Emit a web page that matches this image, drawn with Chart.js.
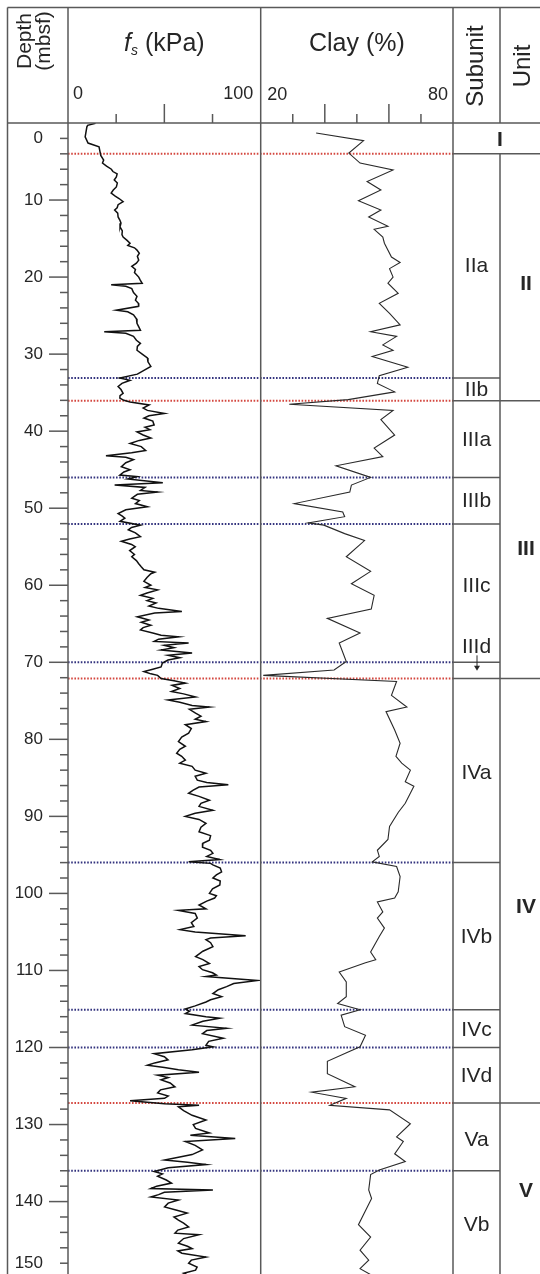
<!DOCTYPE html>
<html>
<head>
<meta charset="utf-8">
<script src="https://cdn.jsdelivr.net/npm/chart.js@4.4.1/dist/chart.umd.min.js"></script>
<style>
  html, body { margin: 0; padding: 0; background: #fff; overflow: hidden; }
  #wrap { position: relative; width: 540px; height: 1274px; }
</style>
</head>
<body>
<div id="wrap"><canvas id="log" width="540" height="1274"></canvas></div>
<script>
// depth axis
const depthTicks = [2, 10, 20, 30, 40, 50, 60, 70, 80, 90, 100, 110, 120, 130, 140, 148];
const depthTickLabels = ['0', '10', '20', '30', '40', '50', '60', '70', '80', '90', '100', '110', '120', '130', '140', '150'];

// header axes
const fsTicks = [25, 50, 75];
const fsEndLabels = ['0', '100'];
const clayTicks = [30, 40, 50, 60, 70];
const clayEndLabels = ['20', '80'];

// sleeve friction log
const fsDepth = [0.04, 0.3, 0.5, 1.8, 2.6, 3.1, 4.2, 4.8, 5.2, 5.6, 6.0, 6.3, 6.6, 7.0, 7.4, 7.8, 8.3, 8.7, 9.1, 9.5,
  9.8, 10.2, 10.6, 11.0, 11.3, 11.7, 12.2, 12.6, 13.0, 13.5, 14.0, 14.5, 14.8, 15.2, 15.6, 15.9, 16.2, 16.5, 16.9, 17.3,
  17.8, 18.2, 18.6, 19.0, 19.4, 20.0, 20.4, 20.8, 21.0, 21.2, 21.5, 22.0, 22.5, 23.0, 23.4, 23.8, 24.3, 24.5, 24.9, 25.4,
  26.0, 26.5, 26.9, 27.1, 27.3, 27.7, 28.2, 28.6, 29.0, 29.5, 30.0, 30.5, 31.0, 31.6, 32.1, 32.6, 33.1, 33.4, 33.8, 34.2,
  34.6, 35.1, 35.4, 35.7, 36.0, 36.2, 36.6, 37.0, 37.3, 37.7, 38.0, 38.3, 38.7, 39.2, 39.5, 39.8, 40.1, 40.5, 40.9, 41.2,
  41.6, 42.0, 42.5, 42.8, 43.2, 43.4, 43.7, 44.1, 44.6, 45.0, 45.3, 45.7, 45.9, 46.2, 46.5, 46.7, 47.0, 47.3, 47.7, 47.9,
  48.2, 48.7, 49.0, 49.4, 49.8, 50.2, 50.7, 51.0, 51.3, 51.7, 52.2, 52.5, 52.8, 53.2, 53.7, 54.0, 54.3, 54.7, 55.0, 55.5,
  56.0, 56.3, 56.8, 57.2, 57.6, 58.0, 58.3, 58.5, 59.0, 59.5, 60.0, 60.3, 60.6, 61.0, 61.3, 61.7, 62.0, 62.3, 62.7, 63.0,
  63.4, 63.6, 64.1, 64.5, 64.8, 65.2, 65.5, 65.8, 66.2, 66.5, 66.7, 67.0, 67.3, 67.5, 67.8, 68.1, 68.4, 68.8, 69.1, 69.4,
  69.7, 70.1, 70.6, 70.9, 71.2, 71.5, 71.7, 72.1, 72.4, 72.7, 73.0, 73.4, 73.8, 74.1, 74.5, 74.9, 75.2, 75.6, 75.8, 76.1,
  76.6, 77.0, 77.4, 77.7, 78.1, 78.6, 79.2, 79.7, 80.3, 80.9, 81.3, 81.8, 82.2, 82.7, 83.1, 83.5, 84.0, 84.4, 84.8, 85.3,
  85.6, 85.9, 86.2, 86.6, 87.0, 87.4, 87.9, 88.3, 88.7, 89.2, 89.6, 90.0, 90.4, 90.9, 91.4, 92.0, 92.5, 93.1, 93.5, 94.0,
  94.4, 94.8, 95.2, 95.6, 95.9, 96.1, 96.3, 96.7, 97.2, 97.6, 98.0, 98.4, 98.9, 99.4, 100.0, 100.3, 100.6, 101.0, 101.5, 102.0,
  102.2, 102.6, 103.2, 103.8, 104.3, 104.7, 105.0, 105.5, 105.8, 106.0, 106.4, 106.9, 107.5, 108.2, 108.6, 109.1, 109.5, 109.9, 110.3, 110.6,
  110.8, 111.3, 111.7, 112.1, 112.5, 113.0, 113.4, 113.8, 114.1, 114.6, 115.0, 115.3, 115.6, 116.0, 116.2, 116.6, 117.1, 117.5, 117.8, 118.2,
  118.8, 119.2, 119.7, 119.9, 120.3, 120.8, 121.2, 121.6, 122.0, 122.3, 122.6, 122.9, 123.2, 123.6, 123.9, 124.2, 124.6, 125.1, 125.5, 125.9,
  126.3, 126.6, 126.9, 127.3, 127.5, 127.7, 128.2, 128.8, 129.4, 130.0, 130.5, 131.1, 131.4, 131.8, 132.2, 132.7, 133.3, 133.9, 134.2, 134.6,
  134.9, 135.2, 135.6, 136.1, 136.4, 136.7, 137.2, 137.6, 138.0, 138.3, 138.5, 138.8, 139.1, 139.4, 139.8, 140.2, 140.7, 141.1, 141.5, 142.0,
  142.4, 142.8, 143.3, 143.7, 144.1, 144.3, 144.8, 145.4, 145.8, 146.1, 146.4, 146.7, 147.2, 147.6, 148.0, 148.5, 148.9, 149.3, 149.6];
const fsKpa = [14.3, 10.2, 9.8, 8.9, 10.4, 16.1, 17.0, 18.5, 17.9, 20.0, 22.5, 23.3, 25.5, 25.1, 24.0, 25.6, 25.1, 23.5, 22.4, 24.5,
  26.5, 28.6, 26.0, 25.5, 24.2, 25.8, 26.0, 26.9, 27.5, 27.0, 28.2, 28.0, 28.6, 30.5, 32.2, 31.0, 34.5, 35.8, 37.0, 36.0,
  36.7, 35.5, 33.1, 35.0, 34.5, 36.7, 37.5, 38.5, 22.4, 30.0, 33.1, 34.0, 35.8, 35.0, 36.5, 36.7, 25.1, 31.0, 34.0, 35.5,
  35.8, 36.8, 37.6, 18.8, 30.0, 34.0, 35.5, 37.6, 36.0, 35.8, 38.5, 41.2, 41.5, 43.0, 39.4, 36.0, 26.9, 32.2, 28.0, 26.0,
  27.5, 28.6, 27.0, 26.9, 29.0, 32.2, 42.1, 39.0, 41.2, 50.1, 42.0, 39.4, 44.0, 44.7, 40.0, 42.5, 35.8, 39.0, 43.0, 37.0,
  32.2, 38.0, 40.3, 33.0, 19.7, 30.0, 34.0, 30.0, 27.7, 32.2, 29.0, 26.9, 35.8, 31.0, 42.0, 49.2, 24.2, 40.0, 37.6, 46.5,
  36.0, 33.1, 37.0, 35.0, 41.2, 30.0, 26.0, 28.0, 29.5, 27.0, 37.6, 33.0, 31.3, 35.0, 37.6, 32.0, 27.7, 33.0, 34.9, 32.0,
  34.5, 33.1, 35.5, 36.7, 38.0, 39.4, 45.0, 43.0, 41.0, 39.4, 43.0, 40.0, 46.5, 41.0, 37.6, 44.0, 41.0, 45.7, 42.0, 47.0,
  59.1, 45.0, 36.0, 42.0, 38.0, 43.0, 39.0, 37.6, 44.0, 48.3, 57.3, 47.0, 44.7, 62.6, 50.0, 55.0, 48.3, 64.4, 52.0, 58.0,
  51.9, 49.0, 48.3, 44.0, 39.4, 43.0, 46.5, 48.3, 55.0, 60.9, 54.0, 58.0, 53.7, 60.0, 66.2, 51.9, 58.0, 64.4, 73.4, 63.0,
  66.2, 69.0, 66.0, 71.6, 60.9, 64.0, 62.6, 59.0, 57.3, 60.9, 58.0, 56.4, 59.0, 60.9, 58.0, 64.4, 66.0, 71.6, 66.0, 67.1,
  72.0, 83.2, 68.0, 65.0, 62.6, 68.0, 73.4, 69.0, 68.0, 75.2, 66.0, 60.9, 68.0, 71.6, 69.0, 68.0, 74.0, 73.4, 70.0, 69.8,
  74.0, 75.2, 72.0, 78.8, 62.6, 74.0, 75.2, 79.0, 79.7, 77.0, 75.2, 79.0, 78.8, 75.0, 73.4, 77.0, 76.1, 72.0, 68.0, 71.6,
  57.3, 66.0, 67.1, 64.0, 65.3, 58.2, 66.0, 92.2, 74.0, 71.6, 74.0, 75.2, 70.0, 66.2, 70.0, 73.4, 68.0, 69.8, 75.0, 77.0,
  71.6, 98.5, 86.0, 82.3, 78.0, 75.2, 79.7, 74.0, 71.6, 66.0, 60.9, 63.0, 60.9, 71.6, 78.8, 70.0, 64.4, 82.3, 72.0, 69.8,
  80.6, 73.0, 71.6, 75.2, 64.4, 44.7, 50.0, 51.9, 45.0, 41.2, 50.0, 57.3, 68.0, 46.5, 52.0, 48.3, 53.0, 55.5, 48.0, 46.5,
  52.0, 50.1, 32.2, 50.1, 68.0, 57.3, 60.0, 64.4, 71.6, 65.0, 66.2, 73.4, 63.5, 86.8, 60.9, 66.0, 69.8, 64.4, 58.0, 50.1,
  62.0, 71.6, 52.0, 44.7, 49.0, 46.5, 51.0, 53.7, 46.0, 43.0, 75.2, 50.0, 47.0, 43.0, 57.3, 52.0, 50.1, 56.0, 61.8, 55.0,
  57.3, 60.0, 62.6, 57.0, 55.5, 68.0, 60.0, 57.3, 62.0, 64.4, 57.0, 59.1, 71.6, 64.0, 62.6, 67.0, 66.2, 60.0, 62.6];

// clay content
const clayDepth = [1.3, 2.3, 3.9, 5.2, 6.1, 7.6, 8.7, 10.1, 11.3, 12.2, 13.4, 13.8, 14.8, 15.6, 17.4, 18.1, 18.9, 20.0, 20.8, 22.1,
  23.4, 24.7, 26.2, 27.1, 27.7, 28.8, 29.5, 30.3, 31.7, 32.8, 33.8, 34.9, 35.9, 36.5, 37.3, 38.5, 40.5, 42.2, 43.3, 44.5,
  46.0, 47.0, 47.9, 49.4, 50.5, 51.1, 51.9, 52.2, 53.3, 54.2, 56.3, 58.2, 59.8, 61.3, 63.1, 64.3, 66.2, 67.5, 69.9, 71.0,
  71.7, 72.5, 74.3, 75.8, 76.4, 78.8, 80.5, 82.2, 83.1, 84.0, 85.5, 86.1, 88.3, 89.5, 91.3, 93.0, 94.4, 95.2, 95.9, 96.5,
  97.8, 99.8, 100.6, 101.1, 102.4, 103.2, 104.5, 105.6, 107.6, 108.6, 109.0, 110.2, 111.5, 113.4, 114.3, 115.1, 115.8, 117.3, 118.4, 119.9,
  120.6, 121.8, 123.4, 125.1, 125.8, 126.6, 127.5, 128.1, 129.9, 131.6, 132.2, 133.8, 134.8, 135.9, 136.5, 138.5, 139.6, 143.0, 144.6, 146.3,
  147.6, 148.7, 149.6];
const clayPct = [37.3, 52.1, 47.5, 51.0, 61.3, 53.2, 57.5, 50.5, 57.5, 53.7, 59.7, 55.4, 58.1, 58.6, 60.8, 63.5, 60.2, 61.3, 59.7, 62.9,
  57.0, 60.2, 63.5, 54.3, 62.4, 58.1, 61.3, 54.8, 65.9, 57.0, 56.4, 61.8, 47.3, 28.9, 61.3, 57.5, 61.8, 55.4, 58.1, 43.5,
  54.3, 48.3, 47.8, 30.5, 45.6, 46.2, 34.8, 39.7, 46.2, 52.4, 46.7, 54.3, 48.3, 55.4, 54.5, 40.8, 51.0, 44.5, 46.7, 42.9,
  20.8, 62.4, 60.8, 65.6, 59.1, 61.8, 63.5, 62.2, 64.0, 66.7, 65.1, 67.8, 65.1, 62.9, 60.2, 59.7, 56.4, 57.0, 54.8, 62.4,
  63.5, 62.9, 61.8, 56.4, 58.1, 56.4, 58.6, 57.0, 54.3, 55.9, 52.7, 44.5, 46.7, 46.7, 44.0, 51.0, 45.1, 46.2, 52.7, 51.0,
  47.3, 40.8, 40.8, 49.4, 35.9, 46.7, 41.6, 60.2, 66.7, 62.4, 64.5, 61.8, 65.1, 57.0, 54.3, 53.7, 54.6, 50.5, 54.3, 51.0,
  53.7, 51.0, 54.8];

// lithostratigraphy
const unitBounds = [4.0, 36.05, 72.1, 127.2];
const subunitBounds = [33.1, 46.0, 52.05, 70.0, 96.0, 115.1, 120.0, 136.0];
const subunitNames = ['IIa', 'IIb', 'IIIa', 'IIIb', 'IIIc', 'IIId', 'IVa', 'IVb', 'IVc', 'IVd', 'Va', 'Vb'];
const subunitLabelDepth = [18.5, 34.6, 41.0, 49.0, 60.0, 67.9, 84.3, 105.5, 117.6, 123.6, 131.9, 142.9];
const unitNames = ['I', 'II', 'III', 'IV', 'V'];
const unitLabelDepth = [2.1, 20.8, 55.2, 101.7, 138.5];

const FONT = '"Liberation Sans", Arial, Helvetica, sans-serif';
const LINE = '#595959';
const INK = '#262626';

function line(ctx, x1, y1, x2, y2) {
  ctx.beginPath();
  ctx.moveTo(x1, y1);
  ctx.lineTo(x2, y2);
  ctx.stroke();
}

function upText(ctx, str, x, y) {
  ctx.save();
  ctx.translate(x, y);
  ctx.rotate(-Math.PI / 2);
  ctx.textAlign = 'center';
  ctx.textBaseline = 'middle';
  ctx.fillText(str, 0, 0);
  ctx.restore();
}

const logFrame = {
  id: 'logFrame',
  beforeDatasetsDraw(chart) {
    const {ctx, chartArea: a, scales: {y}} = chart;
    ctx.save();
    ctx.lineWidth = 2;
    ctx.setLineDash([1.6, 1.6]);
    ctx.strokeStyle = '#d4473f';
    unitBounds.forEach(d => line(ctx, a.left, y.getPixelForValue(d), a.right, y.getPixelForValue(d)));
    ctx.strokeStyle = '#33337e';
    subunitBounds.forEach(d => line(ctx, a.left, y.getPixelForValue(d), a.right, y.getPixelForValue(d)));
    ctx.restore();
  },
  afterDraw(chart) {
    const {ctx, chartArea: a, scales: {y, xf, xc}} = chart;
    const W = chart.width, H = chart.height;
    const top = 7.5, left = 7.5;
    const split = a.right + 47;
    ctx.save();

    // frame and column dividers
    ctx.strokeStyle = LINE;
    ctx.lineWidth = 1.5;
    line(ctx, left, top, W, top);
    line(ctx, left, top, left, H);
    line(ctx, left, a.top, W, a.top);
    line(ctx, a.left, top, a.left, H);
    line(ctx, xf.right, top, xf.right, H);
    line(ctx, a.right, top, a.right, H);
    line(ctx, split, top, split, a.top);
    line(ctx, split, y.getPixelForValue(unitBounds[0]), split, H);
    subunitBounds.forEach(d => line(ctx, a.right, y.getPixelForValue(d), split, y.getPixelForValue(d)));
    unitBounds.forEach(d => line(ctx, a.right, y.getPixelForValue(d), W, y.getPixelForValue(d)));

    // depth ticks, every 2 m
    for (let d = 2; d <= 148; d += 2) {
      const len = d % 10 === 0 ? 19 : 8;
      const py = y.getPixelForValue(d);
      line(ctx, a.left - len, py, a.left, py);
    }
    // header ticks
    fsTicks.forEach(v => {
      const px = xf.getPixelForValue(v);
      line(ctx, px, a.top - (v === 50 ? 19 : 9), px, a.top);
    });
    clayTicks.forEach(v => {
      const px = xc.getPixelForValue(v);
      line(ctx, px, a.top - (v % 20 === 0 ? 19 : 9), px, a.top);
    });

    // IIId arrow
    const ax = (a.right + split) / 2 + 0.5;
    const ay1 = y.getPixelForValue(69.1), ay2 = y.getPixelForValue(71.1);
    ctx.lineWidth = 1;
    ctx.strokeStyle = INK;
    line(ctx, ax, ay1, ax, ay2 - 3);
    ctx.fillStyle = INK;
    ctx.beginPath();
    ctx.moveTo(ax - 3, ay2 - 5);
    ctx.lineTo(ax + 3, ay2 - 5);
    ctx.lineTo(ax, ay2);
    ctx.closePath();
    ctx.fill();

    // header titles
    ctx.fillStyle = INK;
    ctx.font = '21px ' + FONT;
    upText(ctx, 'Depth', 25, 41);
    upText(ctx, '(mbsf)', 44, 41);
    ctx.font = '24px ' + FONT;
    upText(ctx, 'Subunit', (a.right + split) / 2, 66);
    upText(ctx, 'Unit', split + 23, 66);

    ctx.textBaseline = 'alphabetic';
    ctx.textAlign = 'left';
    const fMain = 'italic 25px ' + FONT, fSub = 'italic 14px ' + FONT, fRest = '25px ' + FONT;
    ctx.font = fMain; const w1 = ctx.measureText('f').width;
    ctx.font = fSub; const w2 = ctx.measureText('s').width;
    ctx.font = fRest; const w3 = ctx.measureText(' (kPa)').width;
    let tx = (xf.left + xf.right) / 2 - (w1 + w2 + w3) / 2;
    ctx.font = fMain; ctx.fillText('f', tx, 51); tx += w1;
    ctx.font = fSub; ctx.fillText('s', tx, 55); tx += w2;
    ctx.font = fRest; ctx.fillText(' (kPa)', tx, 51);
    ctx.textAlign = 'center';
    ctx.fillText('Clay (%)', (xc.left + xc.right) / 2, 51);

    // header scale ends
    ctx.font = '18px ' + FONT;
    ctx.textAlign = 'left';
    ctx.fillText(fsEndLabels[0], xf.left + 5, 98.5);
    ctx.fillText(clayEndLabels[0], xc.left + 6.5, 99.5);
    ctx.textAlign = 'right';
    ctx.fillText(fsEndLabels[1], xf.right - 7.5, 98.5);
    ctx.fillText(clayEndLabels[1], xc.right - 5, 99.5);

    // subunit and unit names
    ctx.textAlign = 'center';
    ctx.textBaseline = 'middle';
    ctx.font = '21px ' + FONT;
    subunitNames.forEach((s, i) => ctx.fillText(s, (a.right + split) / 2, y.getPixelForValue(subunitLabelDepth[i]) + 1));
    ctx.font = 'bold 21px ' + FONT;
    unitNames.forEach((s, i) => {
      const ux = i === 0 ? split : split + 26;
      ctx.fillText(s, ux, y.getPixelForValue(unitLabelDepth[i]) + 1);
    });
    ctx.restore();
  }
};

const noPad = s => { s.paddingTop = 0; s.paddingBottom = 0; s.paddingLeft = 0; s.paddingRight = 0; };

new Chart(document.getElementById('log'), {
  type: 'scatter',
  data: {
    datasets: [{
      label: 'fs',
      data: fsDepth.map((d, i) => ({x: fsKpa[i], y: d})),
      xAxisID: 'xf',
      yAxisID: 'y',
      showLine: true,
      borderColor: '#111',
      borderWidth: 1.5,
      pointRadius: 0,
      tension: 0
    }, {
      label: 'clay',
      data: clayDepth.map((d, i) => ({x: clayPct[i], y: d})),
      xAxisID: 'xc',
      yAxisID: 'y',
      showLine: true,
      borderColor: '#2a2a2a',
      borderWidth: 1.1,
      pointRadius: 0,
      tension: 0
    }]
  },
  options: {
    responsive: false,
    animation: false,
    devicePixelRatio: 1,
    layout: {autoPadding: false, padding: {left: 0, right: 87, top: 0, bottom: 0}},
    plugins: {legend: {display: false}, tooltip: {enabled: false}},
    scales: {
      // top boxes of one stack are placed right to left, so clay comes first
      xc: {
        type: 'linear', position: 'top', stack: 'logs', stackWeight: 192.3,
        min: 20, max: 80,
        ticks: {display: false}, grid: {display: false}, border: {display: false},
        afterFit: s => { s.height = 123; noPad(s); }
      },
      xf: {
        type: 'linear', position: 'top', stack: 'logs', stackWeight: 192.7,
        min: 0, max: 100,
        ticks: {display: false}, grid: {display: false}, border: {display: false},
        afterFit: s => { s.height = 123; noPad(s); }
      },
      y: {
        type: 'linear', position: 'left', reverse: true,
        min: 0, max: 149.4,
        afterBuildTicks: s => { s.ticks = depthTicks.map(v => ({value: v})); },
        ticks: {
          autoSkip: false,
          padding: 25,
          color: INK,
          font: {size: 17, family: FONT},
          callback: (v, i) => depthTickLabels[i]
        },
        grid: {display: false, drawTicks: false},
        border: {display: false},
        afterFit: s => { s.width = 68; noPad(s); }
      }
    }
  },
  plugins: [logFrame]
});
</script>
</body>
</html>
